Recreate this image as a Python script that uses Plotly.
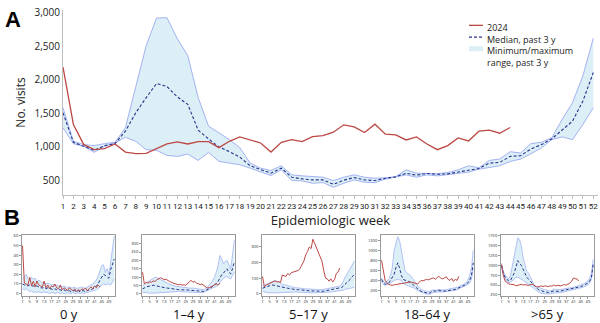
import plotly.graph_objects as go

# ---------------- Panel A data ----------------
weeks = list(range(1, 53))
weeks_2024 = list(range(1, 45))
week_labels = [str(w) for w in weeks]

a_2024 = [2190, 1335, 1035, 960, 975, 1045, 925, 900, 905, 975, 1045, 1075, 1045, 1080, 1080,
          990, 1085, 1150, 1110, 1060, 925, 1070, 1110, 1080, 1155, 1170, 1220, 1330, 1300, 1215,
          1340, 1190, 1180, 1105, 1150, 1045, 960, 1020, 1135, 1090, 1235, 1250, 1205, 1290]
a_median = [1510, 1070, 1010, 950, 1020, 1050, 1235, 1510, 1735, 1945, 1900, 1745, 1635, 1250,
            1120, 1000, 930, 850, 720, 660, 610, 685, 550, 525, 510, 510, 445, 505, 545, 510,
            500, 535, 555, 610, 580, 605, 595, 600, 630, 660, 680, 760, 770, 860, 870, 970,
            1035, 1120, 1260, 1385, 1685, 2110]
a_max = [1585, 1085, 1035, 1020, 1050, 1070, 1285, 1910, 2510, 2920, 2925, 2610, 2360, 1735,
         1310, 1210, 1110, 990, 760, 685, 650, 720, 585, 570, 560, 550, 500, 550, 585, 550,
         535, 540, 560, 660, 610, 610, 600, 620, 660, 720, 690, 800, 820, 930, 910, 1050,
         1070, 1135, 1410, 1660, 2060, 2620]
a_min = [1285, 1050, 1010, 920, 1010, 1060, 1145, 1085, 960, 950, 875, 860, 895, 800, 920,
         785, 760, 735, 685, 625, 575, 660, 500, 495, 460, 470, 400, 460, 510, 475, 470, 520,
         550, 585, 550, 585, 570, 585, 600, 625, 670, 700, 720, 785, 820, 900, 985, 1110,
         1150, 1110, 1335, 1585]
a_yticks = [500, 1000, 1500, 2000, 2500, 3000]
a_ytick_labels = ["500", "1,000", "1,500", "2,000", "2,500", "3,000"]
legend_labels = ["2024", "Median, past 3 y", "Minimum/maximum", "range, past 3 y"]

# ---------------- Panel B data ----------------
b_titles = ["0 y", "1\u20134 y", "5\u201317 y", "18\u201364 y", ">65 y"]
b_xticks = list(range(1, 53, 4))

b0_2024 = [50, 11, 10, 9, 17, 8, 13, 7, 13, 9, 8, 7, 13, 6, 9, 5, 8, 7, 10, 6, 5, 9, 4, 6, 5, 3,
           6, 4, 3, 5, 2, 4, 3, 5, 4, 6, 3, 5, 7, 5, 8, 6, 9, 7]
b0_med = [10, 9, 9, 8, 9, 8, 8, 7, 8, 7, 6, 6, 6, 5, 6, 5, 5, 4, 5, 4, 4, 4, 3, 4, 3, 3, 3, 2, 3,
          3, 2, 3, 2, 3, 3, 2, 3, 4, 4, 5, 6, 8, 10, 14, 17, 20, 19, 17, 16, 25, 30, 36]
b0_max = [15, 18, 20, 16, 14, 17, 15, 16, 12, 14, 13, 11, 12, 10, 11, 10, 9, 10, 8, 9, 8, 8, 7, 8,
          7, 6, 7, 6, 6, 7, 5, 6, 6, 7, 6, 5, 7, 8, 9, 10, 12, 14, 18, 24, 29, 30, 22, 26, 20, 33,
          45, 60]
b0_min = [5, 4, 5, 3, 2, 3, 1, 2, 1, 2, 1, 1, 2, 1, 1, 0, 1, 1, 0, 1, 1, 0, 1, 0, 0, 1, 0, 0, 1,
          0, 0, 1, 0, 1, 0, 1, 1, 2, 2, 3, 3, 4, 5, 7, 9, 10, 9, 10, 10, 9, 12, 15]
b0_yticks = [0, 10, 20, 30, 40, 50, 60]

b1_2024 = [130, 60, 70, 65, 72, 70, 78, 75, 85, 90, 97, 92, 85, 88, 80, 75, 70, 65, 62, 58, 55,
           57, 53, 55, 52, 60, 72, 82, 70, 75, 65, 62, 55, 60, 50, 45, 35, 38, 42, 48, 55, 60,
           52, 65]
b1_med = [30, 38, 42, 45, 48, 50, 52, 50, 47, 45, 42, 40, 38, 36, 35, 33, 30, 30, 28, 27, 26, 25,
          26, 24, 25, 24, 23, 24, 22, 20, 20, 18, 17, 15, 15, 20, 28, 32, 38, 45, 55, 62, 75, 100,
          115, 125, 140, 150, 130, 120, 150, 190]
b1_max = [50, 60, 70, 75, 80, 85, 92, 100, 98, 92, 85, 80, 75, 68, 62, 58, 55, 50, 48, 45, 43,
          42, 40, 40, 38, 36, 35, 36, 34, 32, 30, 28, 27, 25, 26, 30, 40, 50, 65, 80, 100, 130,
          170, 230, 210, 180, 195, 200, 170, 150, 230, 320]
b1_min = [10, 8, 6, 5, 5, 4, 5, 6, 5, 5, 6, 7, 8, 10, 12, 13, 14, 15, 15, 16, 15, 14, 14, 13, 12,
          12, 11, 10, 10, 10, 9, 9, 9, 10, 10, 15, 22, 28, 32, 36, 40, 45, 55, 70, 85, 95, 100,
          105, 95, 90, 110, 130]
b1_yticks = [0, 50, 100, 150, 200, 250, 300]

b2_2024 = [110, 45, 55, 60, 65, 70, 72, 82, 75, 78, 72, 120, 115, 110, 130, 120, 135, 140, 140,
           145, 150, 165, 190, 210, 250, 270, 300, 290, 350, 320, 300, 260, 230, 210, 150, 100,
           95, 80, 95, 75, 90, 130, 140, 165]
b2_med = [35, 40, 45, 50, 52, 55, 55, 52, 48, 45, 42, 40, 38, 36, 35, 33, 30, 28, 27, 25, 26, 24,
          22, 22, 20, 20, 18, 18, 17, 16, 15, 15, 14, 15, 16, 18, 20, 22, 24, 25, 28, 30, 32, 35,
          40, 50, 60, 70, 80, 95, 110, 125]
b2_max = [50, 55, 60, 65, 70, 75, 80, 85, 80, 72, 65, 60, 58, 55, 50, 45, 42, 40, 38, 38, 36, 35,
          36, 34, 32, 30, 30, 30, 28, 28, 27, 25, 25, 26, 28, 30, 32, 34, 35, 37, 40, 43, 46, 50,
          60, 85, 110, 130, 150, 165, 190, 210]
b2_min = [15, 10, 8, 6, 5, 5, 6, 5, 5, 6, 6, 7, 8, 8, 9, 9, 10, 10, 11, 10, 10, 9, 8, 8, 7, 7, 6,
          6, 5, 5, 5, 5, 6, 6, 7, 8, 9, 10, 11, 12, 13, 15, 17, 19, 20, 22, 28, 30, 32, 35, 38, 40]
b2_yticks = [0, 100, 200, 300]

b3_2024 = [800, 550, 400, 350, 320, 310, 300, 310, 320, 330, 340, 335, 340, 350, 345, 360, 370,
           360, 350, 340, 330, 360, 400, 390, 410, 420, 410, 430, 440, 450, 420, 460, 480, 440,
           430, 450, 470, 420, 400, 440, 380, 420, 400, 480]
b3_med = [420, 350, 320, 330, 350, 400, 450, 520, 650, 750, 650, 500, 420, 400, 390, 380, 360,
          330, 300, 260, 230, 200, 180, 170, 160, 150, 140, 150, 180, 190, 185, 200, 195, 180,
          180, 185, 190, 195, 200, 200, 210, 220, 235, 250, 260, 280, 300, 320, 350, 400, 500, 750]
b3_max = [450, 380, 350, 380, 420, 500, 650, 1000, 1150, 1270, 1200, 1000, 750, 600, 550, 520,
          500, 450, 400, 330, 280, 250, 220, 200, 190, 180, 175, 185, 200, 210, 200, 215, 220,
          210, 205, 210, 215, 220, 225, 230, 240, 250, 260, 280, 290, 310, 330, 350, 400, 500,
          650, 1000]
b3_min = [380, 320, 300, 310, 330, 350, 380, 400, 410, 420, 410, 400, 350, 320, 300, 290, 280,
          260, 250, 220, 200, 180, 160, 150, 140, 130, 120, 130, 150, 160, 160, 170, 170, 165,
          170, 170, 175, 180, 180, 180, 190, 200, 215, 230, 240, 260, 280, 300, 320, 350, 420, 650]
b3_yticks = [200, 400, 600, 800, 1000, 1200]

b4_2024 = [1020, 750, 600, 560, 530, 520, 520, 510, 480, 500, 510, 520, 500, 510, 500, 490, 510,
           520, 500, 460, 450, 470, 480, 460, 480, 470, 460, 480, 470, 500, 480, 490, 490, 480,
           500, 510, 500, 520, 550, 600, 680, 660, 650, 600]
b4_med = [1000, 800, 700, 650, 600, 620, 700, 800, 950, 1120, 1050, 1000, 900, 800, 700, 650, 600,
          550, 480, 430, 400, 370, 350, 340, 330, 320, 310, 320, 340, 350, 345, 340, 340, 350,
          360, 370, 380, 390, 400, 400, 410, 420, 440, 450, 460, 480, 500, 520, 550, 600, 700, 1050]
b4_max = [1050, 850, 750, 700, 650, 750, 1000, 1300, 1500, 1700, 1650, 1500, 1200, 1000, 850,
          800, 700, 600, 520, 470, 450, 420, 400, 390, 380, 370, 360, 350, 370, 400, 390, 380,
          380, 390, 400, 410, 420, 425, 430, 430, 440, 450, 470, 490, 500, 520, 540, 560, 600,
          680, 800, 1150]
b4_min = [950, 750, 650, 600, 550, 580, 600, 650, 700, 700, 680, 650, 620, 580, 550, 520, 480,
          450, 420, 370, 330, 310, 290, 280, 280, 275, 270, 280, 300, 310, 305, 300, 300, 310,
          320, 330, 340, 350, 355, 360, 370, 380, 400, 410, 420, 440, 460, 480, 500, 550, 650, 1000]
b4_yticks = [250, 500, 750, 1000, 1250, 1500, 1750]

panels_b = [
    (b0_2024, b0_med, b0_max, b0_min, b0_yticks, [-2.5, 61]),
    (b1_2024, b1_med, b1_max, b1_min, b1_yticks, [-12, 352]),
    (b2_2024, b2_med, b2_max, b2_min, b2_yticks, [-15, 377]),
    (b3_2024, b3_med, b3_max, b3_min, b3_yticks, [88, 1305]),
    (b4_2024, b4_med, b4_max, b4_min, b4_yticks, [222, 1770]),
]

# ---------------- Styles ----------------
RED = "#BC4844"
NAVY = "#28348A"
BAND_LINE = "#A3B2F2"
BAND_FILL = "#DCEFF7"
FONT = "Open Sans"
W, H = 600, 323

def fx(p):
    return p / W

def fy(p):
    return 1 - p / H

fig = go.Figure()

# Panel A
fig.add_trace(go.Scatter(x=weeks, y=a_max, mode="lines", line=dict(color=BAND_LINE, width=1),
                         showlegend=False, xaxis="x", yaxis="y"))
fig.add_trace(go.Scatter(x=weeks, y=a_min, mode="lines", line=dict(color=BAND_LINE, width=1),
                         fill="tonexty", fillcolor=BAND_FILL, showlegend=False,
                         xaxis="x", yaxis="y"))
fig.add_trace(go.Scatter(x=weeks, y=a_median, mode="lines", name=legend_labels[1],
                         line=dict(color=NAVY, width=1.1, dash="3px,2px"), showlegend=False,
                         xaxis="x", yaxis="y"))
fig.add_trace(go.Scatter(x=weeks_2024, y=a_2024, mode="lines", name=legend_labels[0],
                         line=dict(color=RED, width=1.3), showlegend=False,
                         xaxis="x", yaxis="y"))

common_axis = dict(automargin=False, showgrid=False, zeroline=False)

layout = dict(
    width=W, height=H, margin=dict(l=0, r=0, t=0, b=0, autoexpand=False),
    paper_bgcolor="white", plot_bgcolor="white", showlegend=False,
    font=dict(family=FONT, color="#222222"),
    xaxis=dict(domain=[fx(63), fx(598)], range=[1, 52.45], tickmode="array", tickvals=weeks,
               ticktext=week_labels, tickangle=0, tickfont=dict(size=8, family="Roboto"),
               showline=True, linecolor="#BFBFBF",
               ticks="outside", ticklen=3, tickcolor="#BFBFBF",
               title=dict(text="Epidemiologic week", font=dict(size=13), standoff=2),
               anchor="y", **common_axis),
    yaxis=dict(domain=[fy(195), fy(10)], range=[285, 3040], tickmode="array", tickvals=a_yticks,
               ticktext=a_ytick_labels, tickfont=dict(size=10),
               showline=True, linecolor="#BFBFBF", ticks="",
               title=dict(text="No. visits", font=dict(size=12), standoff=6), anchor="x",
               **common_axis),
)

annotations = [
    dict(text="<b>A</b>", x=fx(3), y=fy(5), xref="paper", yref="paper",
         xanchor="left", yanchor="top", showarrow=False,
         font=dict(size=22, family="Liberation Sans", color="#000")),
    dict(text="<b>B</b>", x=fx(2), y=fy(203), xref="paper", yref="paper",
         xanchor="left", yanchor="top", showarrow=False,
         font=dict(size=22, family="Liberation Sans", color="#000")),
]
shapes = []

# Manual legend (positions are styling only)
leg_font = 9
leg_line_h = leg_font * 1.3
leg_top = 18.5
leg_x0, leg_x1, leg_tx = 469, 483, 485
swatches = [dict(color=RED, width=1.3),
            dict(color=NAVY, width=1.2, dash="3px,2px"),
            dict(color=BAND_FILL, width=5)]
for k, ln in enumerate(swatches):
    yy = leg_top + 1 + leg_line_h * (k + 0.5)
    shapes.append(dict(type="line", xref="paper", yref="paper", x0=fx(leg_x0), x1=fx(leg_x1),
                       y0=fy(yy), y1=fy(yy), line=ln))
annotations.append(dict(text="<br>".join(legend_labels), x=fx(leg_tx), y=fy(leg_top),
                        xref="paper", yref="paper", xanchor="left", yanchor="top",
                        align="left", showarrow=False,
                        font=dict(size=leg_font, color="#222222")))

b_left = [22, 142, 262, 381, 501]
b_width = 93
for i, (r24, med, mx, mn, yt, yr) in enumerate(panels_b):
    n = i + 2
    xa, ya = f"x{n}", f"y{n}"
    fig.add_trace(go.Scatter(x=weeks, y=mx, mode="lines", line=dict(color=BAND_LINE, width=0.8),
                             showlegend=False, xaxis=xa, yaxis=ya))
    fig.add_trace(go.Scatter(x=weeks, y=mn, mode="lines", line=dict(color=BAND_LINE, width=0.8),
                             fill="tonexty", fillcolor=BAND_FILL, showlegend=False,
                             xaxis=xa, yaxis=ya))
    fig.add_trace(go.Scatter(x=weeks, y=med, mode="lines",
                             line=dict(color=NAVY, width=1, dash="3px,2px"), showlegend=False,
                             xaxis=xa, yaxis=ya))
    fig.add_trace(go.Scatter(x=weeks_2024, y=r24, mode="lines", line=dict(color=RED, width=1),
                             showlegend=False, xaxis=xa, yaxis=ya))
    layout[f"xaxis{n}"] = dict(domain=[fx(b_left[i]), fx(b_left[i] + b_width)], range=[0.7, 52.4],
                               tickmode="array", tickvals=b_xticks, tickangle=0,
                               tickfont=dict(size=4),
                               showline=True, mirror=True, linecolor="#9A9A9A", linewidth=1,
                               ticks="outside", ticklen=1.5, tickcolor="#9A9A9A", anchor=ya,
                               **common_axis)
    layout[f"yaxis{n}"] = dict(domain=[fy(296), fy(235)], range=yr, tickmode="array", tickvals=yt,
                               tickfont=dict(size=4),
                               showline=True, mirror=True, linecolor="#9A9A9A", linewidth=1,
                               ticks="outside", ticklen=2, tickcolor="#9A9A9A", anchor=xa,
                               **common_axis)
    annotations.append(dict(text=b_titles[i], x=fx(b_left[i] + b_width / 2), y=fy(303.5),
                            xref="paper", yref="paper", xanchor="center", yanchor="top",
                            borderpad=0, showarrow=False,
                            font=dict(size=13, color="#111111")))

layout["annotations"] = annotations
layout["shapes"] = shapes
fig.update_layout(**layout)
fig.write_html("out.html", config={"displayModeBar": False},
               post_script="document.body.style.margin='0';document.body.style.overflow='hidden';")
